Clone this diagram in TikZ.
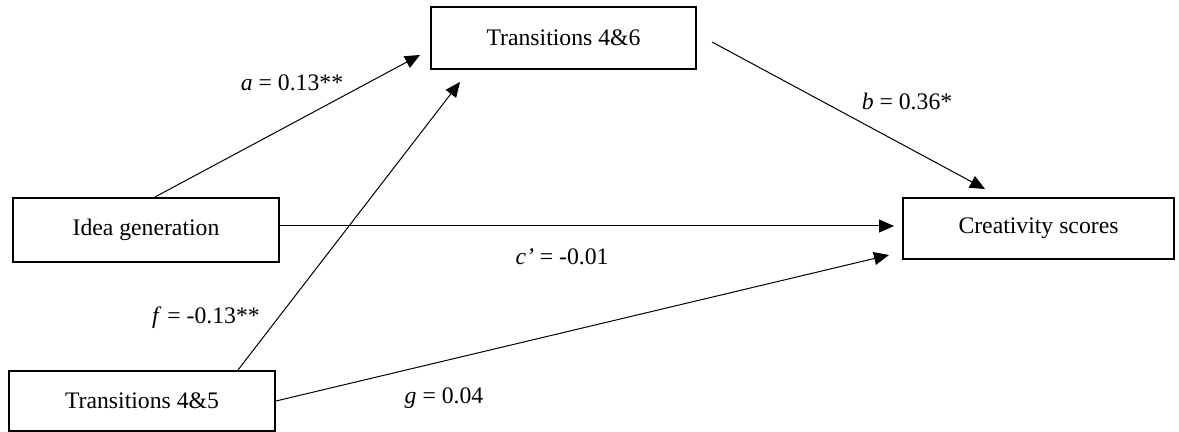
\documentclass[tikz,border=0pt]{standalone}
\usepackage{fontspec}
\setmainfont{Liberation Serif}
\usetikzlibrary{arrows.meta,calc}
\begin{document}
\begin{tikzpicture}[x=0.5pt,y=-0.5pt,
  every node/.style={font=\fontsize{11.85}{14}\selectfont},
  varbox/.style={draw,line width=1pt,inner sep=0pt},
  conn/.style={line width=0.5pt,-{Triangle[length=7.5pt,width=6.5pt]}},
  lbl/.style={inner sep=0pt}]
\useasboundingbox (0,0) rectangle (1179,432);
% boxes
\node[varbox,minimum width=132.5pt,minimum height=31pt] (t46) at (563.5,38) {Transitions 4\&6};
\node[varbox,minimum width=133pt,minimum height=32pt] (ig) at (146,230) {Idea generation};
\node[varbox,minimum width=133pt,minimum height=30pt] (t45) at (142,401) {Transitions 4\&5};
\node[varbox,minimum width=135.5pt,minimum height=30.5pt] (cs) at (1038.5,228.5) {Creativity scores};
% free ends
\coordinate (aT) at (420,55);
\coordinate (fT) at (460,82);
\coordinate (bS) at (712,42);
\coordinate (bT) at (985,189);
\coordinate (cT) at (894,226);
\coordinate (gT) at (889,255);
\coordinate (aS) at ($(ig.north)+(9,0)$);
\coordinate (fS) at ($(t45.north)+(96,0)$);
% connectors
\draw[conn] (aS) -- (aT);
\draw[conn] (fS) -- (fT);
\draw[conn] (bS) -- (bT);
\draw[conn] (ig.east |- cT) -- (cT);
\draw[conn] (t45.east) -- (gT);
% labels
\node[lbl] (la) at (292,83) {\textit{a} = 0.13**};
\node[lbl] (lb) at (907,101) {\textit{b} = 0.36*};
\node[lbl] (lc) at (562,257) {\textit{c’} = -0.01};
\node[lbl] (lf) at (206,318) {\textit{f} = -0.13**};
\node[lbl] (lg) at (444,398) {\textit{g} = 0.04};
\end{tikzpicture}
\end{document}
